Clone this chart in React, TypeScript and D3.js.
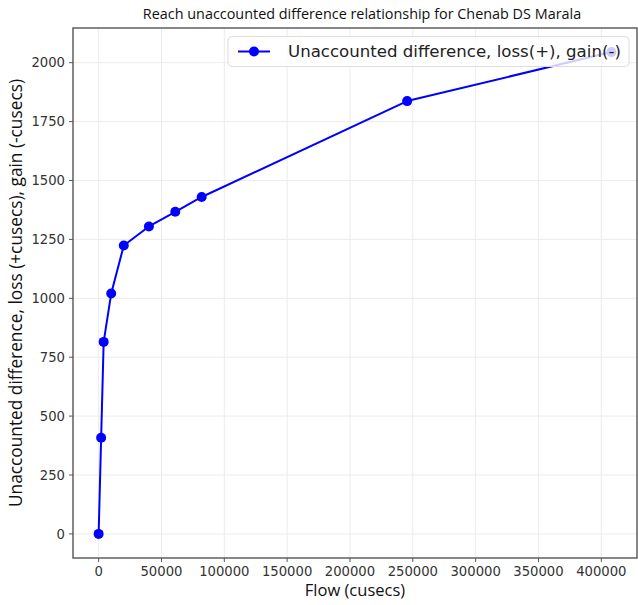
import React, { useEffect, useRef } from "react";
import * as d3 from "d3";

const flows = [0, 2000, 4000, 10000, 20000, 40000, 61000, 82000, 245500, 408000];
const diffs = [0, 408, 815, 1020, 1224, 1305, 1367, 1430, 1837, 2045];
const xTicks = [0, 50000, 100000, 150000, 200000, 250000, 300000, 350000, 400000];
const yTicks = [0, 250, 500, 750, 1000, 1250, 1500, 1750, 2000];
const title = "Reach unaccounted difference relationship for Chenab DS Marala";
const xLabel = "Flow (cusecs)";
const yLabel = "Unaccounted difference, loss (+cusecs), gain (-cusecs)";
const legendLabel = "Unaccounted difference, loss(+), gain(-)";

export default function App() {
  const ref = useRef<SVGSVGElement>(null);
  useEffect(() => {
    const svg = d3.select(ref.current);
    svg.selectAll("*").remove();
    const W = 638, H = 605;
    const L = 73, R = 637, T = 28, B = 558;
    const xMax = d3.max(flows)!, yMax = d3.max(diffs)!;
    const x = d3.scaleLinear().domain([-0.05 * xMax, 1.05 * xMax]).range([L, R]);
    const y = d3.scaleLinear().domain([-0.05 * yMax, 1.05 * yMax]).range([B, T]);
    const tickFont = "DejaVu Sans, sans-serif";
    const labFont = "Open Sans, sans-serif";

    svg.append("rect").attr("width", W).attr("height", H).attr("fill", "#fff");
    const g = svg.append("g");
    g.selectAll(".gx").data(xTicks).enter().append("line")
      .attr("x1", d => x(d)).attr("x2", d => x(d)).attr("y1", T).attr("y2", B)
      .attr("stroke", "#ececec").attr("stroke-width", 1);
    g.selectAll(".gy").data(yTicks).enter().append("line")
      .attr("y1", d => y(d)).attr("y2", d => y(d)).attr("x1", L).attr("x2", R)
      .attr("stroke", "#ececec").attr("stroke-width", 1);

    svg.append("rect").attr("x", L).attr("y", T).attr("width", R - L).attr("height", B - T)
      .attr("fill", "none").attr("stroke", "#555").attr("stroke-width", 1.4);

    g.selectAll(".tx").data(xTicks).enter().append("line")
      .attr("x1", d => x(d)).attr("x2", d => x(d)).attr("y1", B).attr("y2", B + 4)
      .attr("stroke", "#555").attr("stroke-width", 1);
    g.selectAll(".ty").data(yTicks).enter().append("line")
      .attr("y1", d => y(d)).attr("y2", d => y(d)).attr("x1", L - 4).attr("x2", L)
      .attr("stroke", "#555").attr("stroke-width", 1);
    g.selectAll(".lx").data(xTicks).enter().append("text")
      .attr("x", d => x(d)).attr("y", B + 18).attr("text-anchor", "middle")
      .attr("font-family", tickFont).attr("font-size", 13.2).attr("fill", "#333")
      .text(d => String(d));
    g.selectAll(".ly").data(yTicks).enter().append("text")
      .attr("x", L - 8).attr("y", d => y(d)).attr("dy", "0.35em").attr("text-anchor", "end")
      .attr("font-family", tickFont).attr("font-size", 13.2).attr("fill", "#333")
      .text(d => String(d));

    const pts = flows.map((f, i) => [f, diffs[i]] as [number, number]);
    const line = d3.line<[number, number]>().x(d => x(d[0])).y(d => y(d[1]));
    svg.append("path").datum(pts).attr("d", line).attr("fill", "none")
      .attr("stroke", "#0000ff").attr("stroke-width", 2).attr("stroke-linejoin", "round");
    svg.selectAll(".pt").data(pts).enter().append("circle")
      .attr("cx", d => x(d[0])).attr("cy", d => y(d[1])).attr("r", 5).attr("fill", "#0000ff");

    const lg = svg.append("g");
    lg.append("rect").attr("x", 228).attr("y", 36.5).attr("width", 401).attr("height", 30)
      .attr("rx", 4).attr("fill", "rgba(255,255,255,0.8)").attr("stroke", "#ddd");
    lg.append("line").attr("x1", 238).attr("x2", 270).attr("y1", 51.5).attr("y2", 51.5)
      .attr("stroke", "#0000ff").attr("stroke-width", 2);
    lg.append("circle").attr("cx", 254).attr("cy", 51.5).attr("r", 5).attr("fill", "#0000ff");
    lg.append("text").attr("x", 288).attr("y", 51.5).attr("dy", "0.35em")
      .attr("font-family", tickFont).attr("font-size", 16.6).attr("fill", "#222").text(legendLabel);

    svg.append("text").attr("x", (L + R) / 2 + 7).attr("y", 19).attr("text-anchor", "middle")
      .attr("font-family", labFont).attr("font-size", 14.4).attr("fill", "#111").text(title);
    svg.append("text").attr("x", (L + R) / 2).attr("y", 596).attr("text-anchor", "middle")
      .attr("font-family", labFont).attr("font-size", 16.5).attr("fill", "#111").text(xLabel);
    svg.append("text").attr("transform", `translate(22,${(T + B) / 2}) rotate(-90)`)
      .attr("text-anchor", "middle").attr("font-family", labFont).attr("font-size", 17.3)
      .attr("fill", "#111").text(yLabel);
  }, []);
  return <svg ref={ref} width={638} height={605} style={{ display: "block", position: "absolute", left: 0, top: 0 }} />;
}
